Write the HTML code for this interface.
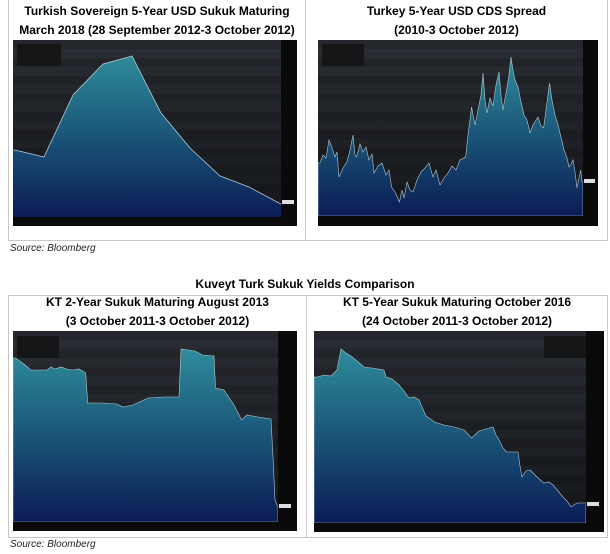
<!DOCTYPE html>
<html><head><meta charset="utf-8"><style>
body{margin:0;width:610px;height:554px;background:#fff;position:relative;font-family:"Liberation Sans",Arial,sans-serif;overflow:hidden}
.t{position:absolute;font-weight:bold;font-size:12px;text-align:center;color:#000;line-height:19px}
.src{position:absolute;font-style:italic;font-size:10px;color:#222}
.b{position:absolute;background:#c8c8c8}
svg{position:absolute;display:block}
</style></head><body>
<svg width="0" height="0"><defs>
<linearGradient id="ar" x1="0" y1="0" x2="0" y2="1"><stop offset="0" stop-color="#2f8c9b"/><stop offset="0.5" stop-color="#1a5578"/><stop offset="1" stop-color="#0b1c55"/></linearGradient>
<linearGradient id="bg" x1="0" y1="0" x2="0" y2="1"><stop offset="0" stop-color="#2a2d33"/><stop offset="1" stop-color="#15171b"/></linearGradient>
<pattern id="bands" width="10" height="18" patternUnits="userSpaceOnUse"><rect width="10" height="9" fill="#000" opacity="0.14"/></pattern>
</defs></svg>

<div class="b" style="left:8px;top:0;width:1px;height:241px"></div>
<div class="b" style="left:305px;top:0;width:1px;height:241px"></div>
<div class="b" style="left:607px;top:0;width:1px;height:241px"></div>
<div class="b" style="left:8px;top:240px;width:600px;height:1px"></div>

<div class="t" style="left:9px;top:2px;width:296px">Turkish Sovereign 5-Year USD Sukuk Maturing<br>March 2018 (28 September 2012-3 October 2012)</div>
<div class="t" style="left:306px;top:2px;width:301px">Turkey 5-Year USD CDS Spread<br>(2010-3 October 2012)</div>

<svg style="left:13px;top:40px" width="284" height="186">
<rect width="284" height="186" fill="url(#bg)"/><rect width="268" height="177" fill="url(#bands)"/>
<path d="M0,110 L2,110 31,117 60,55 90,24 119,16 148,73 177,108 207,136 236,147 264,162 268,164 268,177 0,177Z" fill="url(#ar)"/>
<path d="M0,110 L2,110 31,117 60,55 90,24 119,16 148,73 177,108 207,136 236,147 264,162 268,164" fill="none" stroke="#b8c8d0" stroke-width="0.8"/>
<rect x="268" width="16" height="186" fill="#0a0a0a"/><rect y="177" width="284" height="9" fill="#0a0a0a"/>
<rect x="4" y="4" width="44" height="22" fill="#111" opacity="0.8"/>
<rect x="269" y="160" width="12" height="4" fill="#ddd"/>
</svg>

<svg style="left:318px;top:40px" width="280" height="186">
<rect width="280" height="186" fill="url(#bg)"/><rect width="265" height="176" fill="url(#bands)"/>
<path d="M0,123 L2,123 5,115 8,118 11,100 14,108 17,117 19,112 21,137 25,128 29,122 32,110 35,95 37,115 38.6,117 42,104 45,112 48,107 51,120 54,114 56,133 60,126 64,123 68,135 71,130 73.6,147 77,152 81.5,162 84,150 86,158 89,142 92,150 95,152 99,140 103,132 107,128 111,123 115,137 118,130 122,145 126,138 130,133 134,126 138,130 142,120 147.6,117 150,95 153.6,67 157,85 160,70 163,55 165,33 167,60 169,73 172,58 175,66 178,45 181,32 183,55 185,70 187,58 188.6,50 191,35 193,17 195,30 197,40 200,47 203,62 206,75 209,80 212,93 215,85 218,80 220,77 223,86 225.6,88 228,70 230,55 231.5,43 234,60 237,75 240,85 243,97 246,110 249,118 251,127 253,124 255,120 257,132 259,148 261,138 262.7,130 264,142 265,142 265,176 0,176Z" fill="url(#ar)" stroke="#b8c8d0" stroke-width="0.6"/>
<rect x="265" width="15" height="186" fill="#0a0a0a"/><rect y="176" width="280" height="10" fill="#0a0a0a"/>
<rect x="4" y="4" width="42" height="22" fill="#111" opacity="0.8"/>
<rect x="266" y="139" width="11" height="4" fill="#ddd"/>
</svg>

<div class="src" style="left:10px;top:242px;top:243px">Source: Bloomberg</div>

<div class="t" style="left:0;top:275px;width:610px">Kuveyt Turk Sukuk Yields Comparison</div>

<div class="b" style="left:8px;top:295px;width:600px;height:1px"></div>
<div class="b" style="left:8px;top:295px;width:1px;height:243px"></div>
<div class="b" style="left:306px;top:295px;width:1px;height:243px"></div>
<div class="b" style="left:607px;top:295px;width:1px;height:243px"></div>
<div class="b" style="left:8px;top:537px;width:600px;height:1px"></div>

<div class="t" style="left:9px;top:293px;width:297px">KT 2-Year Sukuk Maturing August 2013<br>(3 October 2011-3 October 2012)</div>
<div class="t" style="left:307px;top:293px;width:300px">KT 5-Year Sukuk Maturing October 2016<br>(24 October 2011-3 October 2012)</div>

<svg style="left:13px;top:331px" width="284" height="200">
<rect width="284" height="200" fill="url(#bg)"/><rect width="265" height="191" fill="url(#bands)"/>
<path d="M0,27 L2.6,27 8,31 12,34 18,39 26,39 34,39 38,36 42,38 48,36 54,38 60,39 66,38 72.7,42 74.7,72 90,72 104,73 110,76 120,74 135,67 150,66 166,66 168,18 182,20 189.6,24 201,25 202.5,57 211,59 221,74 228.6,89 234,84 245,86 258,88 260,126 262,169 264.5,175 265,175 265,191 0,191Z" fill="url(#ar)" stroke="#b8c8d0" stroke-width="0.6"/>
<rect x="265" width="19" height="200" fill="#0a0a0a"/><rect y="191" width="284" height="9" fill="#0a0a0a"/>
<rect x="4" y="5" width="42" height="22" fill="#111" opacity="0.8"/>
<rect x="266" y="173" width="12" height="4" fill="#ddd"/>
</svg>

<svg style="left:314px;top:331px" width="290" height="201">
<rect width="290" height="201" fill="url(#bg)"/><rect width="272" height="192" fill="url(#bands)"/>
<path d="M0,46 L3.6,46 10,44 17,45 23,39 27,18 32,22 37,25 43,30 50,36 58,37 70,39 72,46 78,48 85,54 90,60 95,67 100,66 105,69 112,85 120.6,91 130,94 140,96 150,99 157.6,107 165,100 172,98 179,96 182,104 185,109 189,117 192.6,121 200,121 204,121 206,135 208,146 212,140 216,139 222,145 229.6,152 235,151 239,154 244,160 249,166 253,170 257,176 263,172 270.6,172 272,172 272,192 0,192Z" fill="url(#ar)" stroke="#b8c8d0" stroke-width="0.6"/>
<rect x="272" width="18" height="201" fill="#0a0a0a"/><rect y="192" width="290" height="9" fill="#0a0a0a"/>
<rect x="230" y="5" width="42" height="22" fill="#111" opacity="0.8"/>
<rect x="273" y="171" width="12" height="4" fill="#ddd"/>
</svg>

<div class="src" style="left:10px;top:539px">Source: Bloomberg</div>
</body></html>
